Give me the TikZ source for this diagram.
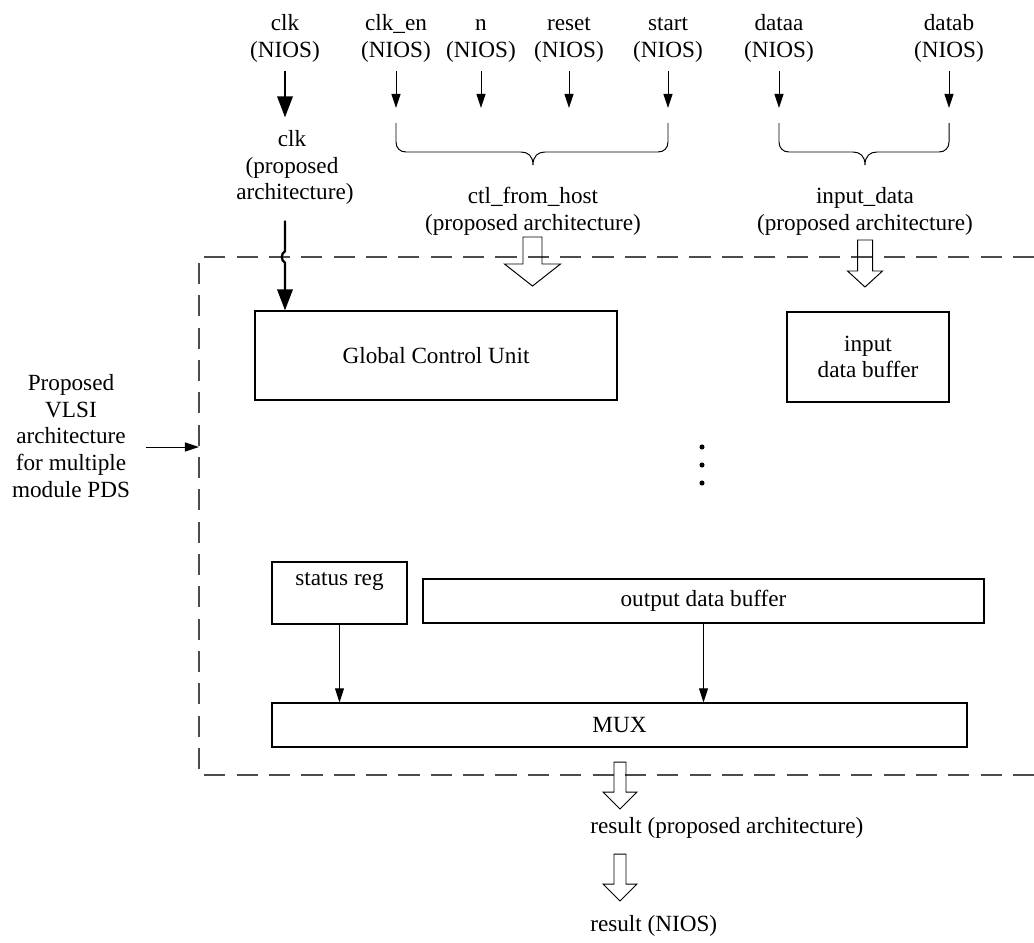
\documentclass[tikz,border=0pt]{standalone}
\usepackage{fontspec}
\setmainfont{Liberation Serif}
\usetikzlibrary{arrows.meta, positioning, calc}

% hollow block arrow pointing down: x, top, head start, tip, half shaft, half head
\newcommand{\hollowdown}[6]{%
  \draw[line width=0.7pt] (#1-#5,#2) -- (#1+#5,#2) -- (#1+#5,#3) -- (#1+#6,#3) -- (#1,#4) -- (#1-#6,#3) -- (#1-#5,#3) -- cycle;}

\begin{document}
\begin{tikzpicture}[x=0.025cm, y=-0.025cm,
    font=\fontsize{16.5}{19}\selectfont,
    lbl/.style={align=center, inner sep=0pt},
    blk/.style={draw, line width=0.9pt, inner sep=0pt},
    sig/.style={line width=0.7pt, -{Triangle[length=10pt, width=6.4pt]}},
    clksig/.style={line width=1.6pt, -{Triangle[length=15pt, width=11pt]}},
    boundary/.style={draw=black!70, line width=0.8pt, dash pattern=on 15pt off 8pt}]

    \useasboundingbox (0,0) rectangle (1034,942);

    % --- HOST SIGNALS (NIOS) ---
    \node[lbl, anchor=north] (clk)   at (285,14) {clk\\(NIOS)};
    \node[lbl, anchor=north] (clken) at (396,14) {clk\_en\\(NIOS)};
    \node[lbl, anchor=north] (nsig)  at (481,14) {\vphantom{l}n\\(NIOS)};
    \node[lbl, anchor=north] (reset) at (569,14) {\vphantom{l}reset\\(NIOS)};
    \node[lbl, anchor=north] (start) at (668,14) {\vphantom{l}start\\(NIOS)};
    \node[lbl, anchor=north] (dataa) at (779,14) {\vphantom{l}dataa\\(NIOS)};
    \node[lbl, anchor=north] (datab) at (949,14) {datab\\(NIOS)};

    \coordinate (tipline) at (0,108);
    \draw[sig, shorten <=6pt] (clken.south) -- (clken.south |- tipline);
    \draw[sig, shorten <=6pt] (nsig.south)  -- (nsig.south |- tipline);
    \draw[sig, shorten <=6pt] (reset.south) -- (reset.south |- tipline);
    \draw[sig, shorten <=6pt] (start.south) -- (start.south |- tipline);
    \draw[sig, shorten <=6pt] (dataa.south) -- (dataa.south |- tipline);
    \draw[sig, shorten <=6pt] (datab.south) -- (datab.south |- tipline);

    % --- BRACES ---
    \draw[line width=0.7pt] (396,123) -- (396,142) .. controls (396,148) and (400,152) .. (406,152)
        -- (521,152) .. controls (528,152) and (533,156) .. (533,165)
        .. controls (533,156) and (538,152) .. (545,152)
        -- (658,152) .. controls (664,152) and (668,148) .. (668,142) -- (668,123);
    \draw[line width=0.7pt] (779,123) -- (779,142) .. controls (779,148) and (783,152) .. (789,152)
        -- (853,152) .. controls (860,152) and (865,156) .. (865,165)
        .. controls (865,156) and (870,152) .. (877,152)
        -- (939,152) .. controls (945,152) and (949,148) .. (949,142) -- (949,123);

    \node[lbl, anchor=north] (clkp)   at (292,130) {clk\\(proposed\\\ architecture)};
    \node[lbl, anchor=north] (ctl)    at (533,187) {ctl\_from\_host\\(proposed architecture)};
    \node[lbl, anchor=north] (indata) at (865,187) {input\_data\\(proposed architecture)};

    % --- ARCHITECTURE BOUNDARY ---
    \draw[boundary] (1034,257) -- (199,257) -- (199,775) -- (1034,775);
    \coordinate (archL) at (199,447);
    \coordinate (hop) at (285,257);

    \node[lbl] (vlsi) at (71,436) {Proposed\\VLSI\\architecture\\for multiple\\module PDS};
    \draw[sig, shorten <=11pt] (archL -| vlsi.east) -- (archL);

    % --- BLOCKS ---
    \node[blk, minimum width=9.05cm, minimum height=2.225cm] (gcu) at (436,355.5) {Global Control Unit};
    \node[blk, align=center, minimum width=4.05cm, minimum height=2.25cm] (inbuf) at (868,357) {input\\data buffer};
    \node[blk, minimum width=3.375cm, minimum height=1.55cm, text depth=20pt] (status) at (339.5,593) {status reg};
    \node[blk, minimum width=14.025cm, minimum height=1.1cm] (outbuf) at (703.5,601) {output data buffer};
    \node[blk, minimum width=17.375cm, minimum height=1.1cm] (mux) at (619.5,725) {MUX};

    % dots
    \fill (702,447) circle (1.8pt);
    \fill (702,465) circle (1.8pt);
    \fill (702,483) circle (1.8pt);

    % --- CLOCK ---
    \draw[clksig, shorten <=6pt, shorten >=9pt] (clk.south) -- (clk.south |- clkp.north);
    \draw[clksig, shorten <=11pt] (clkp.south -| clk) -- ([yshift=4pt]hop)
        .. controls ([xshift=-3pt,yshift=3pt]hop) and ([xshift=-3pt,yshift=-3pt]hop) .. ([yshift=-4pt]hop)
        -- (gcu.north -| clk);

    % --- DATA PATH ---
    \draw[sig] (status.south) -- (status.south |- mux.north);
    \draw[sig] (outbuf.south) -- (outbuf.south |- mux.north);

    \hollowdown{532.5}{237}{264}{286}{9.5}{28}
    \hollowdown{865}{240}{271}{287}{7.5}{17.5}

    % --- RESULT ---
    \hollowdown{620}{762}{792}{809}{6}{17}
    \node[lbl, anchor=west] (resp) at (590,828) {result (proposed architecture)};
    \hollowdown{620}{854}{884}{901}{6}{17}
    \node[lbl, anchor=west] (resn) at (590,926) {result (NIOS)};

\end{tikzpicture}
\end{document}
